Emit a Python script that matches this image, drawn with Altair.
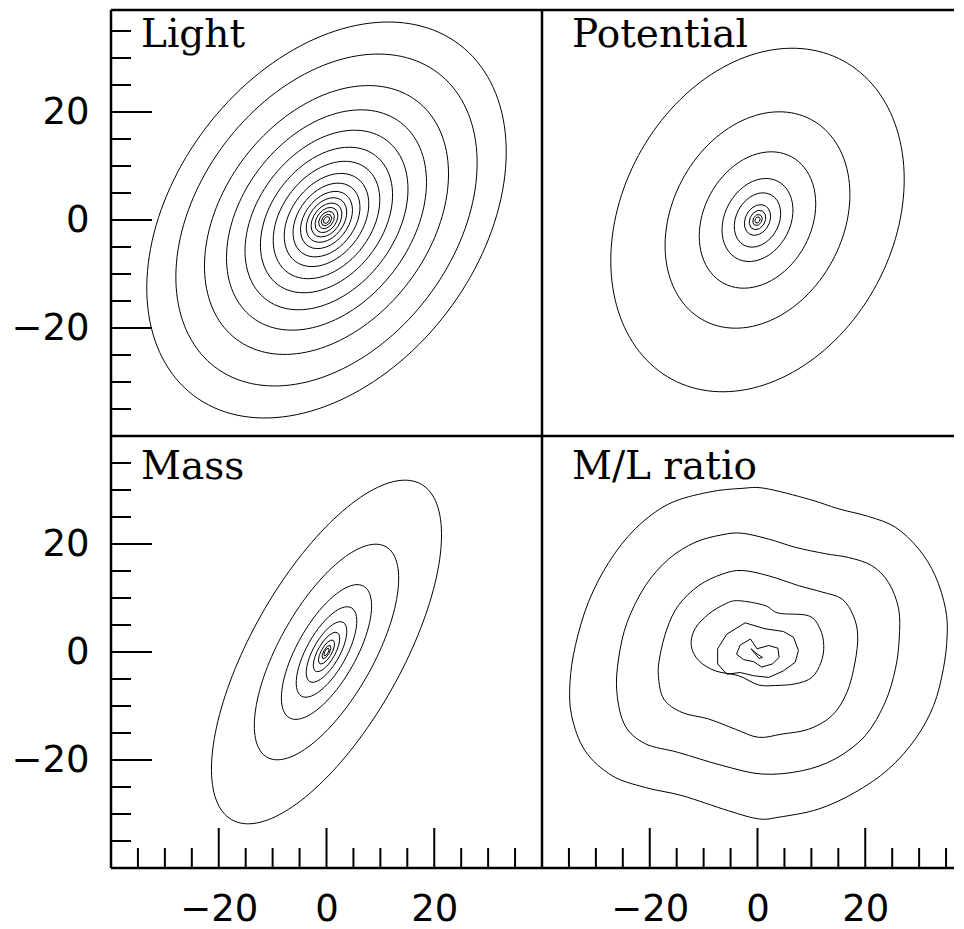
import altair as alt
import numpy as np
import pandas as pd

# ---------------- values ----------------
panel_titles = ["Light", "Potential", "Mass", "M/L ratio"]

tick_minor = [-35, -30, -25, -15, -10, -5, 5, 10, 15, 25, 30, 35]
tick_major = [-20, 0, 20]
tick_labels = [-20, 0, 20]

# elliptical contours: semi-major axes, axis ratio, position angle (deg from +x)
light_a = [40.8, 34.2, 27.7, 22.7, 18.5, 15.0, 12.1, 9.6, 7.6, 5.9, 4.6, 3.5, 2.6, 1.8, 1.2, 0.7]
light_q = 0.69
light_pa = 52.7

pot_a = [33.5, 21.1, 13.3, 8.1, 5.3, 3.0, 1.9, 1.1, 0.6]
pot_q = 0.75
pot_pa = 61.7

mass_a = [35.7, 22.4, 14.0, 9.4, 6.3, 4.1, 2.5, 1.4, 0.8]
mass_q = 0.39
mass_pa = 60.5

# irregular M/L ratio contours, (x, y) points traced around each loop
ml_c1 = [(1.4, 30.3), (9.5, 28.3), (15.1, 26.5), (20.6, 25.1), (25.6, 23.1), (29.9, 19.1),
         (33.0, 14.1), (34.9, 8.0), (35.2, 3.0), (34.5, -3.1), (32.7, -9.9), (29.3, -16.1),
         (24.3, -21.7), (18.1, -26.0), (11.3, -29.1), (3.9, -30.6), (0.2, -30.9), (-5.4, -29.4),
         (-14.0, -26.6), (-20.8, -25.1), (-27.0, -22.9), (-32.0, -18.3), (-34.5, -11.8),
         (-34.8, -5.6), (-33.8, 1.2), (-31.4, 9.2), (-27.6, 16.6), (-22.7, 22.8), (-16.5, 27.4),
         (-9.1, 29.6), (-2.9, 30.3)]
ml_c2 = [(-2.9, 22.0), (2.1, 20.9), (7.0, 19.4), (12.6, 18.2), (16.9, 17.5), (21.2, 16.0),
         (24.3, 12.9), (26.2, 8.0), (26.3, 2.4), (25.6, -3.1), (23.7, -9.3), (20.0, -15.5),
         (14.4, -19.8), (8.2, -22.0), (0.8, -22.6), (-6.6, -21.0), (-14.7, -18.6), (-20.8, -17.0),
         (-24.6, -13.6), (-26.1, -7.5), (-25.8, -1.3), (-24.2, 5.5), (-20.8, 12.3), (-16.5, 17.2),
         (-11.6, 20.3), (-6.6, 21.7)]
ml_c3 = [(-2.9, 15.1), (2.1, 14.1), (7.6, 12.3), (12.0, 11.1), (15.7, 9.8), (17.8, 6.7),
         (18.6, 3.0), (18.1, -1.9), (16.6, -7.5), (13.8, -11.8), (9.5, -14.3), (4.5, -15.2),
         (0.2, -15.8), (-4.1, -14.3), (-9.1, -12.4), (-14.0, -11.2), (-17.4, -8.7), (-18.4, -4.4),
         (-18.1, -0.7), (-16.8, 4.3), (-14.7, 8.6), (-10.9, 12.3), (-6.6, 14.4)]
ml_c4 = [(-3.5, 9.5), (1.4, 8.6), (3.9, 7.2), (9.5, 6.7), (11.6, 4.3), (12.3, 1.2), (11.8, -1.9),
         (10.1, -4.7), (7.0, -5.9), (3.3, -6.2), (0.2, -6.1), (-3.5, -4.4), (-7.8, -3.5),
         (-10.9, -1.6), (-12.3, 1.2), (-11.6, 4.3), (-9.1, 7.0), (-6.0, 8.9)]
ml_c5 = [(-2.3, 5.4), (1.4, 4.3), (4.8, 3.8), (6.7, 2.7), (7.6, 0.3), (7.0, -1.9), (4.8, -3.5),
         (2.1, -4.7), (-0.7, -4.4), (-3.2, -3.8), (-5.7, -4.1), (-7.4, -2.2), (-7.4, 0.6), (-5.7, 3.3)]
ml_c6 = [(-1.3, 2.4), (-0.1, 0.6), (2.1, 1.2), (3.8, 0.7), (4.0, -1.0), (2.8, -2.2), (0.8, -2.8),
         (-0.7, -1.8), (-2.6, -1.4), (-3.9, -0.4), (-3.2, 1.3)]
ml_c7 = [(-1.2, 0.6), (0.3, -1.2), (0.9, -1.0), (-0.3, -0.2)]

# ---------------- layout constants ----------------
PX_PER_UNIT_X = 431 / 80.0
PX_PER_UNIT_Y = 432 / 80.0
W_L, W_R = 431, 412
H_T, H_B = 426, 432
x_dom_l = [-40, 40]
x_dom_r = [-40, -40 + W_R / PX_PER_UNIT_X]
y_dom_t = [-40, -40 + H_T / PX_PER_UNIT_Y]
y_dom_b = [-40, 40]

NUM_FONT = "DejaVu Sans"
TXT_FONT = "DejaVu Serif"


def ellipse_table(a_list, q, pa_deg):
    th = np.radians(pa_deg)
    rows = []
    for k, a in enumerate(a_list):
        b = a * q
        n = int(min(160, max(8, round(a * 6))))
        for i in range(n):
            t = 2 * np.pi * i / n
            u, v = a * np.cos(t), b * np.sin(t)
            rows.append({"c": k, "i": i,
                         "x": u * np.cos(th) - v * np.sin(th),
                         "y": u * np.sin(th) + v * np.cos(th)})
    return pd.DataFrame(rows)


def loop_table(loops):
    rows = []
    for k, pts in enumerate(loops):
        for i, (x, y) in enumerate(pts):
            rows.append({"c": k, "i": i, "x": x, "y": y})
    return pd.DataFrame(rows)


def x_axis(on):
    if not on:
        return None
    return alt.Axis(values=tick_labels, format="d", title=None, ticks=False, tickSize=0,
                    domain=False, grid=False, labelPadding=41, labelBaseline="middle",
                    labelFont=NUM_FONT, labelFontSize=37, labelColor="black")


def y_axis(on):
    if not on:
        return None
    return alt.Axis(values=tick_labels, format="d", title=None, ticks=False, tickSize=0,
                    domain=False, grid=False, labelPadding=22, labelBaseline="middle",
                    labelFont=NUM_FONT, labelFontSize=37, labelColor="black")


def panel(title, line_specs, W, H, xdom, ydom, show_x, show_y, top_row):
    xs = alt.Scale(domain=xdom, nice=False, zero=False)
    ys = alt.Scale(domain=ydom, nice=False, zero=False)
    xa, ya = x_axis(show_x), y_axis(show_y)
    layers = []
    for df, interp in line_specs:
        layers.append(
            alt.Chart(df).mark_line(color="black", strokeWidth=1, interpolate=interp, clip=True)
            .encode(x=alt.X("x:Q", scale=xs, axis=xa),
                    y=alt.Y("y:Q", scale=ys, axis=ya),
                    detail="c:N", order="i:Q")
        )
    one = alt.Data(values=[{"d": 0}])
    if show_y:
        for vals, ln in ((tick_minor, 20), (tick_major, 41)):
            layers.append(
                alt.Chart(pd.DataFrame({"y": vals})).mark_rule(color="black", strokeWidth=2)
                .encode(y=alt.Y("y:Q", scale=ys, axis=ya), x=alt.value(0), x2=alt.value(ln))
            )
        # invisible anchor fixing the left extent of the figure
        layers.append(alt.Chart(one).mark_rule(opacity=0)
                      .encode(x=alt.value(-102), x2=alt.value(-101), y=alt.value(100)))
    if show_x:
        for vals, ln in ((tick_minor, 20), (tick_major, 40)):
            layers.append(
                alt.Chart(pd.DataFrame({"x": vals})).mark_rule(color="black", strokeWidth=2)
                .encode(x=alt.X("x:Q", scale=xs, axis=xa), y=alt.value(H), y2=alt.value(H - ln))
            )
    # frame
    layers.append(alt.Chart(one).mark_rule(color="black", strokeWidth=2.5)
                  .encode(x=alt.value(0), y=alt.value(0), y2=alt.value(H)))
    layers.append(alt.Chart(one).mark_rule(color="black", strokeWidth=2.5)
                  .encode(x=alt.value(0), x2=alt.value(W), y=alt.value(0)))
    if show_x:
        layers.append(alt.Chart(one).mark_rule(color="black", strokeWidth=2.5)
                      .encode(x=alt.value(0), x2=alt.value(W), y=alt.value(H)))
    # panel label
    ty = 37 if top_row else 43
    layers.append(
        alt.Chart(pd.DataFrame({"t": [title]})).mark_text(
            align="left", baseline="alphabetic", font=TXT_FONT, fontSize=39, color="black")
        .encode(x=alt.value(30), y=alt.value(ty), text="t:N")
    )
    return alt.layer(*layers).properties(width=W, height=H)


light_df = ellipse_table(light_a, light_q, light_pa)
pot_df = ellipse_table(pot_a, pot_q, pot_pa)
mass_df = ellipse_table(mass_a, mass_q, mass_pa)
ml_smooth = loop_table([ml_c1, ml_c2, ml_c3, ml_c4])
ml_sharp = loop_table([ml_c5, ml_c6, ml_c7])

tl = panel(panel_titles[0], [(light_df, "linear-closed")], W_L, H_T, x_dom_l, y_dom_t, False, True, True)
tr = panel(panel_titles[1], [(pot_df, "linear-closed")], W_R, H_T, x_dom_r, y_dom_t, False, False, True)
bl = panel(panel_titles[2], [(mass_df, "linear-closed")], W_L, H_B, x_dom_l, y_dom_b, True, True, False)
br = panel(panel_titles[3], [(ml_smooth, "cardinal-closed"), (ml_sharp, "linear-closed")],
           W_R, H_B, x_dom_r, y_dom_b, True, False, False)

chart = (
    alt.concat(tl, tr, bl, br, columns=2, spacing=0, bounds="flush", align="each")
    .properties(padding={"left": 0, "top": 0, "right": 0, "bottom": 0})
    .configure_view(stroke="transparent")
)

chart.save("out.html", embed_options={"renderer": "svg", "actions": False})
